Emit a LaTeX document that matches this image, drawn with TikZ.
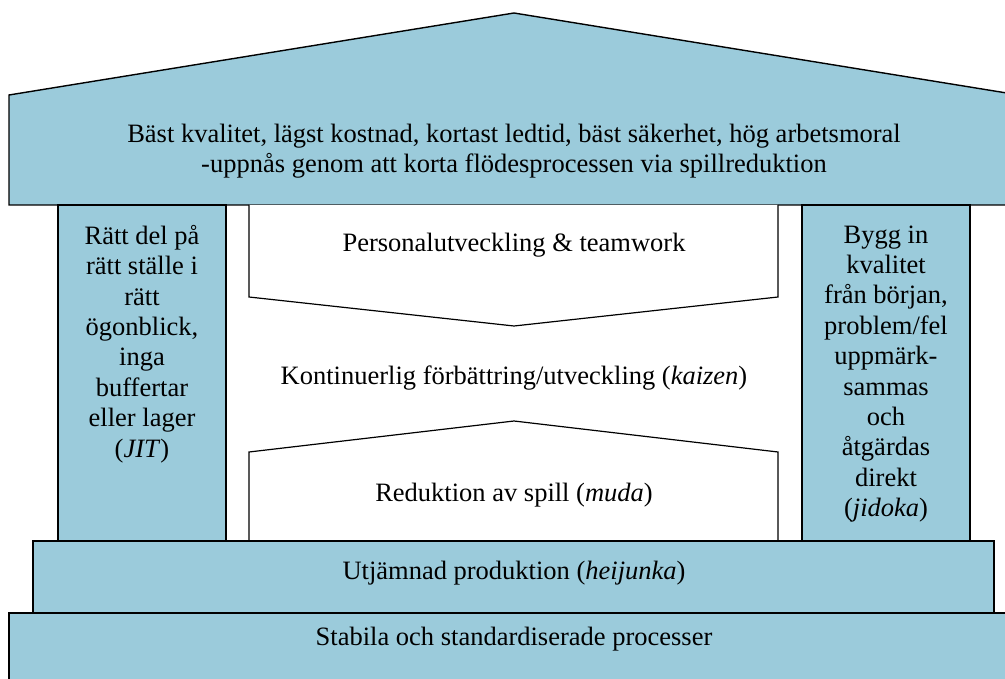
\documentclass[tikz,border=0pt]{standalone}
\usepackage{fontspec}
\setmainfont{Liberation Serif}
\usetikzlibrary{calc}

\definecolor{houseblue}{RGB}{155,203,219}

\tikzset{
  part/.style={draw=black,line width=1.4pt,fill=houseblue,line join=miter},
  arrowpart/.style={draw=black,line width=1.2pt,fill=white},
  label/.style={font=\fontsize{26.5}{30.4}\selectfont,align=center,inner sep=0pt}
}

\begin{document}
\begin{tikzpicture}[x=1pt,y=-1pt]
     \useasboundingbox (0,0) rectangle (1005,679);
     \clip (0,0) rectangle (1005,679);

     % roof
     \coordinate (RL) at (9,95);
     \coordinate (RT) at (514,13);
     \coordinate (RR) at (1019,95);
     \draw[part] (9,205) -- (RL) -- (RT) -- (RR) -- (1019,205) -- cycle;

     % pillars
     \draw[part] (58,205) rectangle (226,541);
     \draw[part] (802,205) rectangle (970,541);

     % arrow shapes in the middle
     \draw[arrowpart] (249,205) -- (249,297) -- (514,326) -- (778,297) -- (778,205);
     \draw[arrowpart] (249,541) -- (249,452) -- (514,421) -- (778,452) -- (778,541);

     % foundation
     \draw[part] (33,541) rectangle (994,613);
     \draw[part] (9,613) rectangle (1020,690);

     % texts
     \node[label] (goal) at (514,151)
          {Bäst kvalitet, lägst kostnad, kortast ledtid, bäst säkerhet, hög arbetsmoral\\
           -uppnås genom att korta flödesprocessen via spillreduktion};
     \node[label] (jit) at (142,344)
          {Rätt del på\\rätt ställe i\\rätt\\ögonblick,\\inga\\buffertar\\eller lager\\(\textit{JIT})};
     \node[label] (jidoka) at (886,374)
          {Bygg in\\kvalitet\\från början,\\problem/fel\\uppmärk-\\sammas\\och\\åtgärdas\\direkt\\(\textit{jidoka})};
     \node[label] (staff) at (514,245) {Personalutveckling \& teamwork};
     \node[label] (kaizen) at (514,378) {Kontinuerlig förbättring/utveckling (\textit{kaizen})};
     \node[label] (muda) at (514,495) {Reduktion av spill (\textit{muda})};
     \node[label] (heijunka) at (514,573) {Utjämnad produktion (\textit{heijunka})};
     \node[label] (stable) at (514,639) {Stabila och standardiserade processer};
\end{tikzpicture}
\end{document}
